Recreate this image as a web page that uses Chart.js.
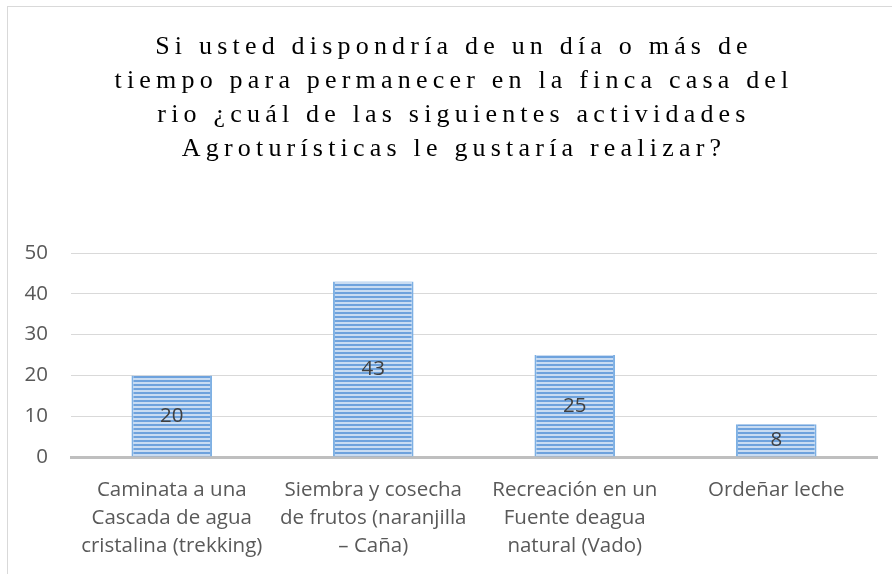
<!DOCTYPE html>
<html lang="es">
<head>
<meta charset="utf-8">
<title>Actividades agroturísticas</title>
<script src="https://cdn.jsdelivr.net/npm/chart.js@4.4.1/dist/chart.umd.min.js"></script>
<style>
  html, body { margin: 0; padding: 0; background: #fff; overflow: hidden; }
  #wrap { position: relative; width: 892px; height: 574px; overflow: hidden; }
  #frame {
    position: absolute; left: 7px; top: 6px; width: 960px; height: 640px;
    border: 1px solid #d9d9d9; box-sizing: border-box;
  }
  #chartTitle {
    position: absolute; left: 0; top: 29px; width: 908px;
    text-align: center; font-family: "Liberation Serif", "Times New Roman", serif;
    font-size: 26px; line-height: 34px; letter-spacing: 5.2px; color: #000;
  }
  #chart { position: absolute; left: 0; top: 0; }
</style>
</head>
<body>
<div id="wrap">
  <div id="frame"></div>
  <canvas id="chart" width="892" height="574"></canvas>
  <div id="chartTitle">
    Si usted dispondría de un día o más de<br>
    tiempo para permanecer en la finca casa del<br>
    rio ¿cuál de las siguientes actividades<br>
    Agroturísticas le gustaría realizar?
  </div>
</div>

<script>
// ---- DATA ----
const categories = [
  ['Caminata a una', 'Cascada de agua', 'cristalina (trekking)'],
  ['Siembra y cosecha', 'de frutos (naranjilla', '– Caña)'],
  ['Recreación en un', 'Fuente deagua', 'natural (Vado)'],
  ['Ordeñar leche']
];
const responses = [20, 43, 25, 8];
const yTicks = [0, 10, 20, 30, 40, 50];

// ---- STRIPED FILL (horizontal lines like the original) ----
function makeStripes() {
  const c = document.createElement('canvas');
  c.width = 4;
  c.height = 4;
  const g = c.getContext('2d');
  g.fillStyle = '#c9dcf2';
  g.fillRect(0, 0, 4, 4);
  g.fillStyle = '#6ea2dd';
  g.fillRect(0, 0, 4, 2);
  return document.getElementById('chart').getContext('2d').createPattern(c, 'repeat');
}

// ---- VALUE LABELS IN THE MIDDLE OF EACH BAR ----
const centerLabels = {
  id: 'centerLabels',
  afterDatasetsDraw(chart) {
    const ctx = chart.ctx;
    const meta = chart.getDatasetMeta(0);
    ctx.save();
    ctx.font = '20.5px "Open Sans"';
    ctx.fillStyle = '#404040';
    ctx.textAlign = 'center';
    ctx.textBaseline = 'middle';
    meta.data.forEach((bar, i) => {
      const mid = (bar.y + bar.base) / 2;
      ctx.fillText(String(chart.data.datasets[0].data[i]), bar.x, mid);
    });
    ctx.restore();
  }
};

new Chart(document.getElementById('chart'), {
  type: 'bar',
  data: {
    labels: categories,
    datasets: [{
      data: responses,
      backgroundColor: makeStripes(),
      borderColor: '#7eb0e3',
      borderWidth: { left: 2, right: 2, top: 0, bottom: 0 },
      borderSkipped: false,
      categoryPercentage: 1,
      barPercentage: 0.4
    }]
  },
  options: {
    responsive: false,
    animation: false,
    layout: { padding: { top: 253, right: 15, left: 0, bottom: 0 } },
    plugins: {
      legend: { display: false },
      tooltip: { enabled: false }
    },
    scales: {
      y: {
        min: yTicks[0],
        max: yTicks[yTicks.length - 1],
        afterFit: (scale) => { scale.width = 71; },
        afterBuildTicks: (scale) => { scale.ticks = yTicks.map(v => ({ value: v })); },
        grid: { color: '#d9d9d9', lineWidth: 1, drawTicks: false },
        border: { display: false },
        ticks: {
          padding: 23,
          color: '#595959',
          font: { family: 'Open Sans', size: 20.5 }
        }
      },
      x: {
        afterFit: (scale) => { scale.height = 117; },
        grid: { display: false, drawTicks: false },
        border: { color: '#bfbfbf', width: 3 },
        ticks: {
          padding: 19,
          color: '#595959',
          maxRotation: 0,
          autoSkip: false,
          font: { family: 'Open Sans', size: 20.5, lineHeight: '28px' }
        }
      }
    }
  },
  plugins: [centerLabels]
});
</script>
</body>
</html>
